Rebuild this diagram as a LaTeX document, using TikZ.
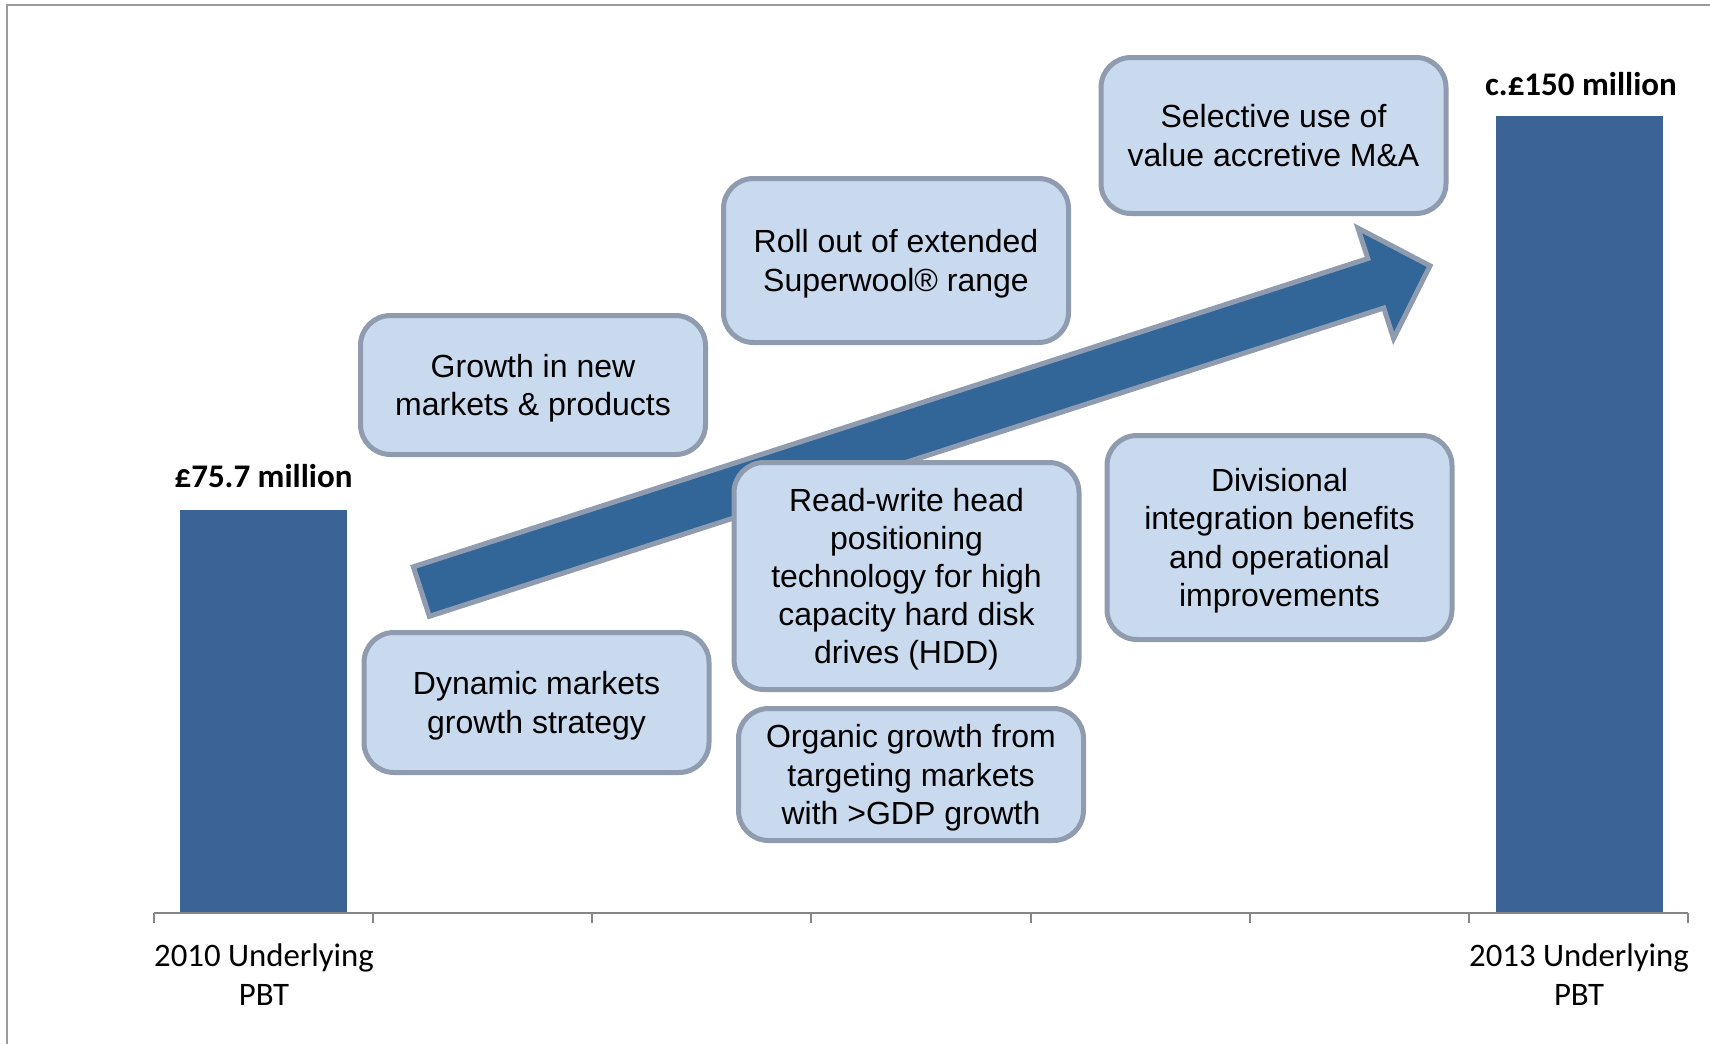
\documentclass[tikz,border=0pt]{standalone}
\usepackage{fontspec}
\setmainfont{Liberation Sans}
\newfontfamily\calibri{Carlito}
\usetikzlibrary{positioning}

\definecolor{boxfill}{RGB}{201,217,238}
\definecolor{boxline}{RGB}{143,155,174}
\definecolor{barblue}{RGB}{60,99,149}
\definecolor{arrowblue}{RGB}{50,102,153}
\definecolor{axisgray}{RGB}{134,134,134}
\definecolor{framegray}{RGB}{155,155,155}

\tikzset{
  driver/.style={draw=boxline, line width=2.5pt, fill=boxfill, rounded corners=15pt,
    minimum width=172.5pt, inner sep=0pt, align=center, text depth=-0.7pt,
    font=\fontsize{16}{19.1}\selectfont},
  pbtbar/.style={fill=barblue, anchor=south, minimum width=83.5pt, inner sep=0pt},
  pbtval/.style={anchor=base, inner sep=0pt, font=\calibri\bfseries\fontsize{16.5}{19}\selectfont},
  pbtlbl/.style={anchor=north, inner sep=0pt, align=center, font=\calibri\fontsize{16.4}{19.5}\selectfont},
}

\begin{document}
\begin{tikzpicture}[x=0.5pt, y=-0.5pt]
        \useasboundingbox (0,0) rectangle (1710,1044);
        \draw[framegray, line width=1pt] (1710,5) -- (7,5) -- (7,1044);

        % the two PBT columns
        \node[pbtbar, minimum height=201.5pt] (base) at (263.5,913) {};
        \node[pbtbar, minimum height=398.5pt] (target) at (1579,913) {};
        \node[pbtval] (baseval) at (263.5,487) {£75.7 million};
        \node[pbtval] (targetval) at (1581,95) {c.£150 million};

        % category axis
        \draw[axisgray, line width=1pt] (154,913) -- (1688,913);
        \foreach \i in {0,...,7}
          \draw[axisgray, line width=1pt] ({154+219.14*\i},913) -- ++(0,10);
        \node[pbtlbl] (baselbl) at (264,943) {2010 Underlying\\PBT};
        \node[pbtlbl] (targetlbl) at (1579,943) {2013 Underlying\\PBT};

        % growth arrow
        \begin{scope}[shift={(418.5,592.5)}, rotate=17.9]
          \filldraw[fill=arrowblue, draw=boxline, line width=2.5pt, line join=miter]
            (3,-26) -- (1006,-26) -- (1006,-58) -- (1063,0) -- (1006,58) -- (1006,26) -- (3,26) -- cycle;
        \end{scope}

        % growth drivers
        \node[driver, minimum height=69.5pt] (growth) at (533,385) {Growth in new\\markets \& products};
        \node[driver, minimum height=82pt] (rollout) at (896,260.5) {Roll out of extended\\Superwool® range};
        \node[driver, minimum height=78pt] (mna) at (1273.5,135.5) {Selective use of\\value accretive M\&A};
        \node[driver, minimum height=113.5pt] (hdd) at (906.5,576) {Read-write head\\positioning\\technology for high\\capacity hard disk\\drives (HDD)};
        \node[driver, minimum height=102pt] (divisional) at (1279.5,537.5) {Divisional\\integration benefits\\and operational\\improvements};
        \node[driver, minimum height=70pt] (dynamic) at (536.5,702.5) {Dynamic markets\\growth strategy};
        \node[driver, minimum height=66pt] (organic) at (911,774.5) {Organic growth from\\targeting markets\\with >GDP growth};
\end{tikzpicture}
\end{document}
